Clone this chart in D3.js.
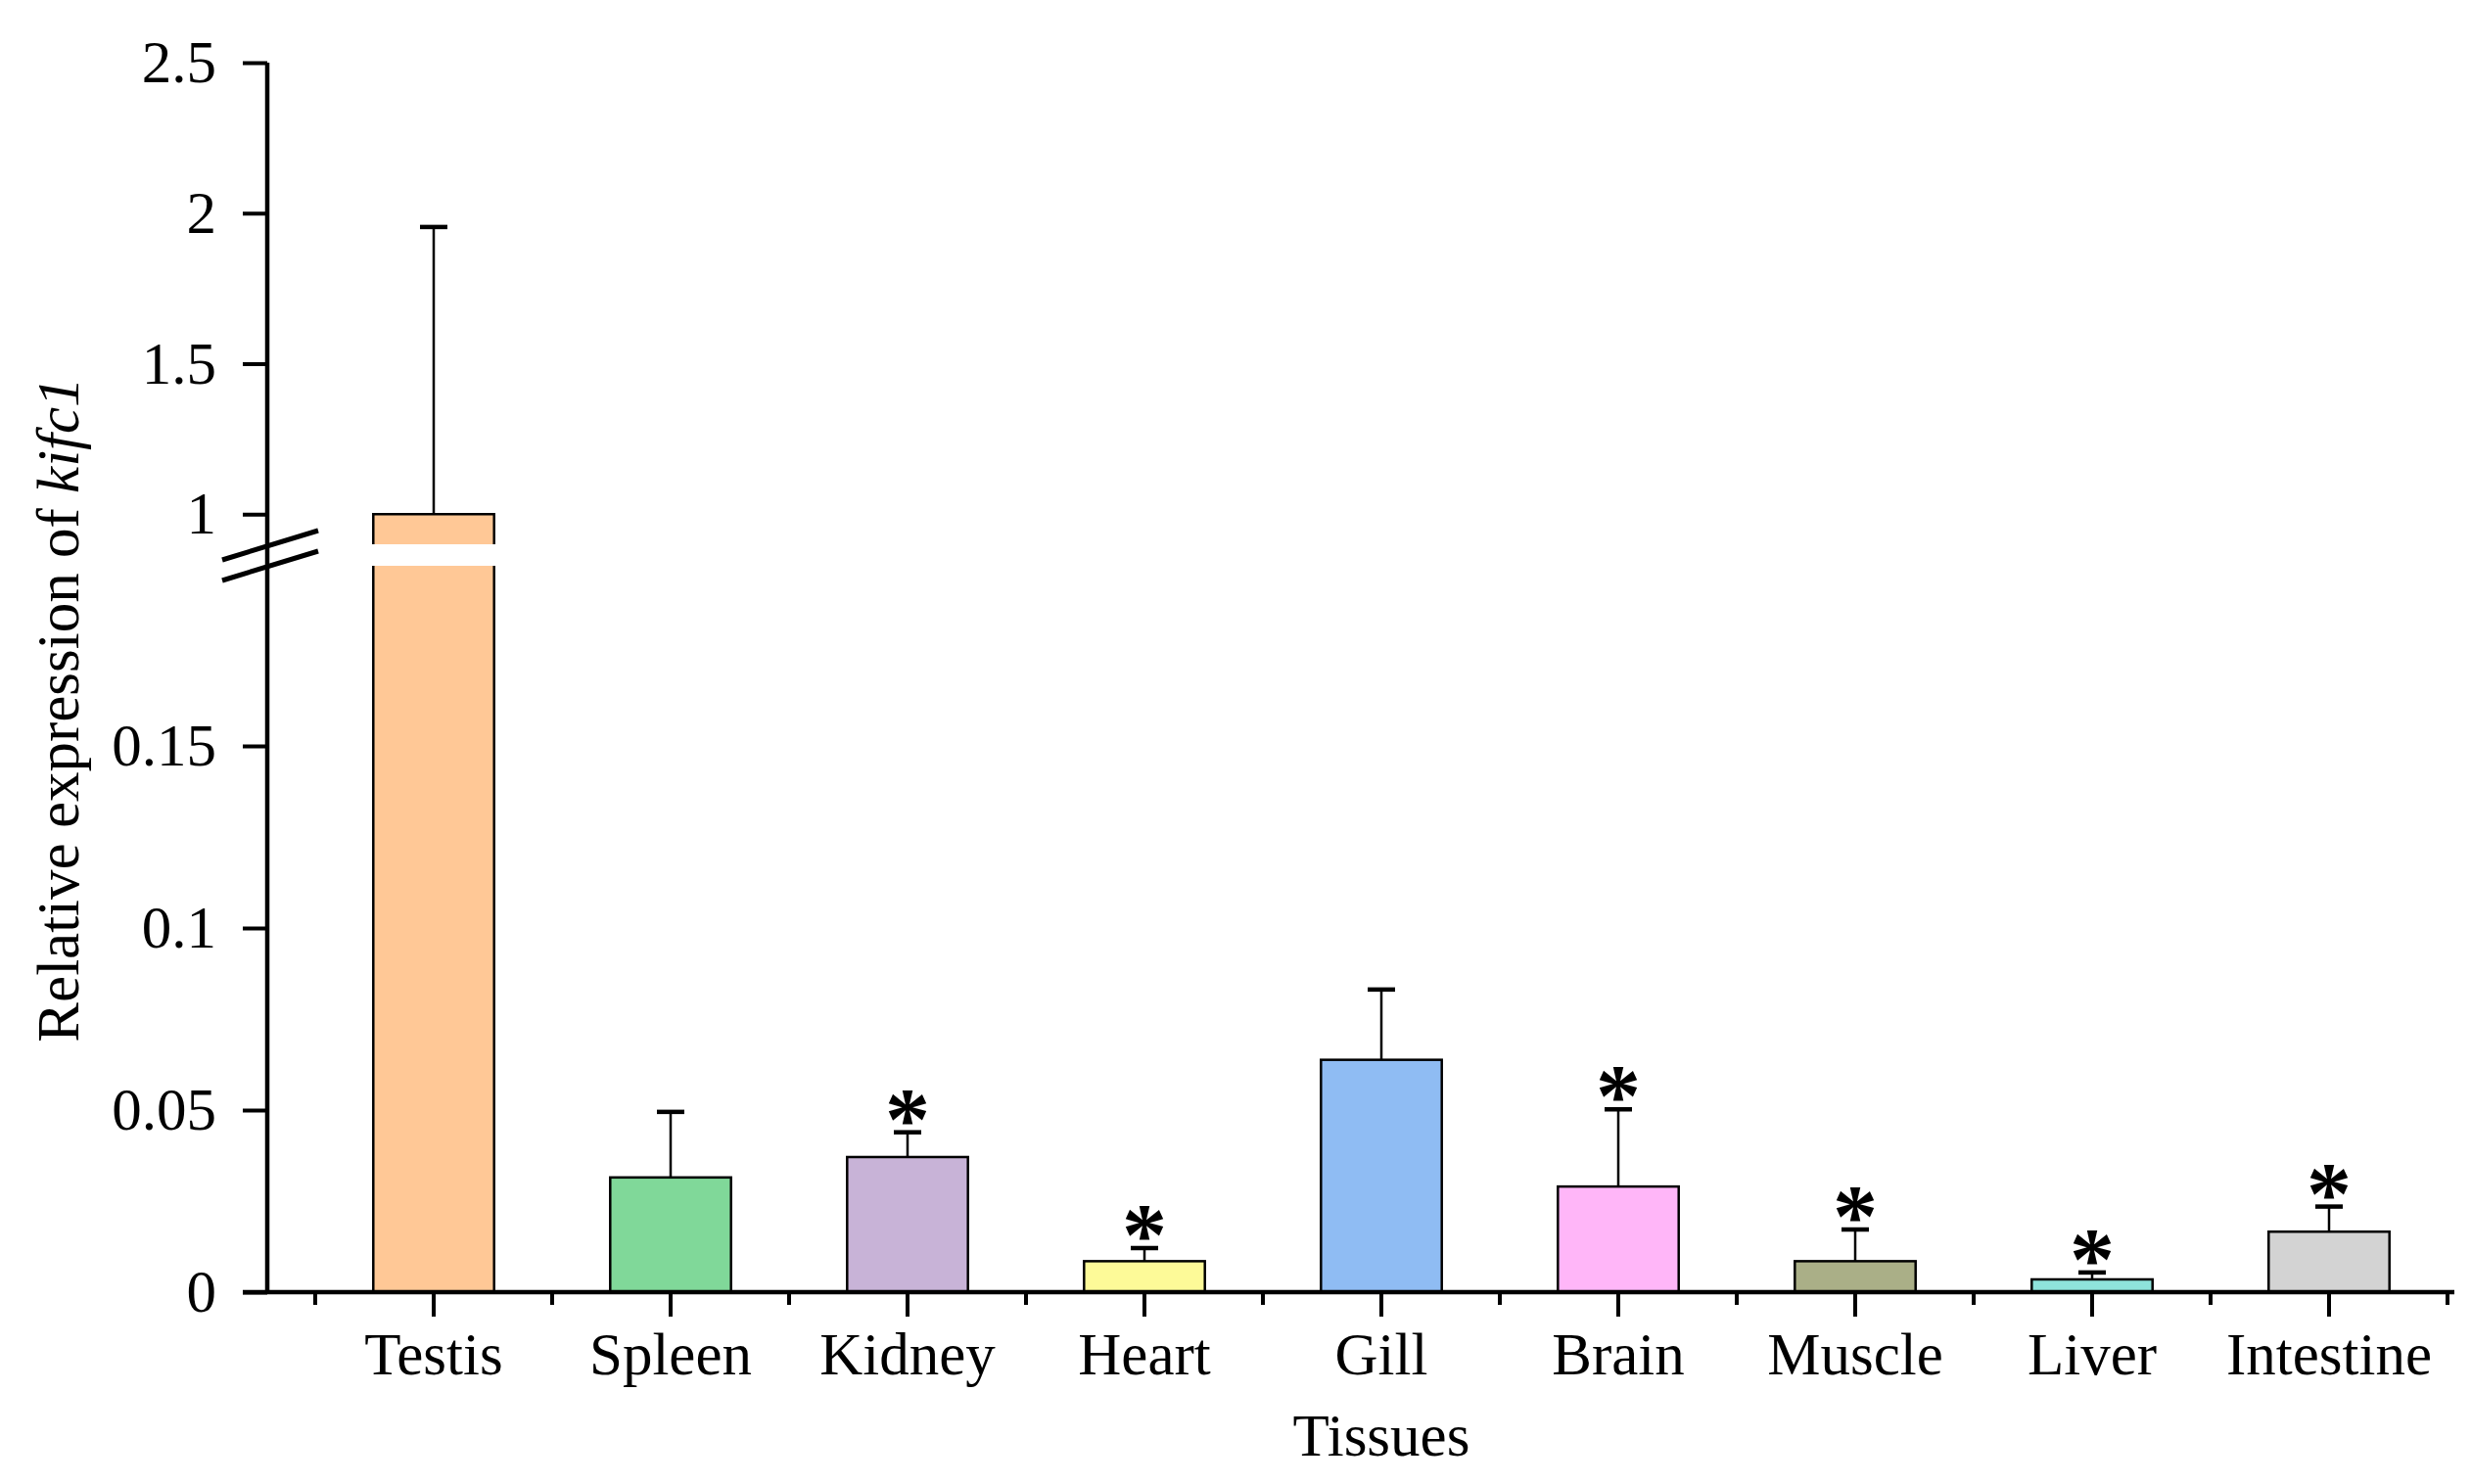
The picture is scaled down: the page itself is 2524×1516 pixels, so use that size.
<!DOCTYPE html>
<html>
<head>
<meta charset="utf-8">
<script src="https://cdn.jsdelivr.net/npm/d3@7"></script>
<style>
  body { margin: 0; background: #fff; }
  text { font-family: "Liberation Serif", "Times New Roman", serif; fill: #000; }
</style>
</head>
<body>
<svg id="chart" width="2524" height="1516"></svg>
<script>
// Relative expression of kifc1 across tissues
const tissues = ["Testis", "Spleen", "Kidney", "Heart", "Gill", "Brain", "Muscle", "Liver", "Intestine"];
const means = [1, 0.0315, 0.0371, 0.0085, 0.0638, 0.029, 0.0085, 0.0035, 0.0166];
const errors = [0.954, 0.018, 0.0068, 0.0036, 0.0193, 0.0212, 0.0087, 0.0019, 0.0069];
const significant = [false, false, true, true, false, true, true, true, true];
const colors = ["#FFC896", "#80D899", "#C8B3D7", "#FDFA98", "#8FBCF3", "#FFB6F8", "#AAAF87", "#8EE3DB", "#D3D3D3"];

const lowTicks = [0, 0.05, 0.1, 0.15];
const highTicks = [1, 1.5, 2, 2.5];
// axis break: lower segment 0-0.2, upper segment 0.9-2.5
const breakLow = 0.2;
const breakHigh = 0.9;

const svg = d3.select("#chart");

const x = d3.scaleBand().domain(tissues).range([322, 2500]);
const yLow = d3.scaleLinear().domain([0, breakLow]).range([1320, 576]);
const yHigh = d3.scaleLinear().domain([breakHigh, 2.5]).range([556, 64]);

// pick the right segment for a value
function yv(v) {
  return v <= breakLow ? yLow(v) : yHigh(v);
}

const barW = x.step() * 0.51;
const cx = (d) => x(d) + x.bandwidth() / 2;

// Bars
const bars = svg.append("g");
tissues.forEach((t, i) => {
  bars.append("rect")
    .attr("x", cx(t) - barW / 2)
    .attr("y", yv(means[i]))
    .attr("width", barW)
    .attr("height", yLow(0) - yv(means[i]))
    .attr("fill", colors[i])
    .attr("stroke", "#000")
    .attr("stroke-width", 2.5);

  // error bar
  const top = yv(means[i] + errors[i]);
  bars.append("line")
    .attr("x1", cx(t)).attr("x2", cx(t))
    .attr("y1", yv(means[i])).attr("y2", top)
    .attr("stroke", "#000").attr("stroke-width", 2.5);
  bars.append("line")
    .attr("x1", cx(t) - 14).attr("x2", cx(t) + 14)
    .attr("y1", top).attr("y2", top)
    .attr("stroke", "#000").attr("stroke-width", 4.5);

  if (significant[i]) {
    bars.append("text")
      .attr("x", cx(t))
      .attr("y", top + 17)
      .attr("text-anchor", "middle")
      .style("font-size", "92px")
      .style("font-weight", "bold")
      .text("*");
  }

  // white gap where the bar crosses the axis break
  if (means[i] > breakLow) {
    bars.append("rect")
      .attr("x", cx(t) - barW / 2 - 5)
      .attr("y", yHigh(breakHigh))
      .attr("width", barW + 10)
      .attr("height", yLow(breakLow) - yHigh(breakHigh) + 2)
      .attr("fill", "#fff");
  }
});

// Y axis line
const axisX = 273;
svg.append("line")
  .attr("x1", axisX).attr("x2", axisX)
  .attr("y1", yHigh(2.5)).attr("y2", yLow(0) + 2)
  .attr("stroke", "#000").attr("stroke-width", 4.5);

function styleAxis(g) {
  g.select(".domain").remove();
  g.selectAll(".tick line").attr("stroke", "#000").attr("stroke-width", 4);
  g.selectAll(".tick text")
    .style("font-size", "61px")
    .style("font-family", '"Liberation Serif", "Times New Roman", serif');
}

svg.append("g")
  .attr("transform", `translate(${axisX},0)`)
  .call(d3.axisLeft(yLow).tickValues(lowTicks).tickSize(25).tickPadding(27).tickFormat((d) => String(d)))
  .call(styleAxis);

svg.append("g")
  .attr("transform", `translate(${axisX},0)`)
  .call(d3.axisLeft(yHigh).tickValues(highTicks).tickSize(25).tickPadding(27).tickFormat((d) => String(d)))
  .call(styleAxis);

// break marks on the y axis
const brk = svg.append("g").attr("stroke", "#000").attr("stroke-width", 5);
[0, 21].forEach((off) => {
  brk.append("line")
    .attr("x1", axisX - 46).attr("y1", yLow(breakLow) - 4 + off)
    .attr("x2", axisX + 52).attr("y2", yHigh(breakHigh) - 14 + off);
});

// X axis
svg.append("line")
  .attr("x1", 248).attr("x2", 2507)
  .attr("y1", yLow(0)).attr("y2", yLow(0))
  .attr("stroke", "#000").attr("stroke-width", 4.5);

svg.append("g")
  .attr("transform", `translate(0,${yLow(0)})`)
  .call(d3.axisBottom(x).tickSize(25).tickPadding(16))
  .call(styleAxis);

// minor ticks at category boundaries
const edges = tissues.map((t) => x(t)).concat([x.range()[1]]);
svg.append("g")
  .selectAll("line")
  .data(edges)
  .join("line")
  .attr("x1", (d) => d).attr("x2", (d) => d)
  .attr("y1", yLow(0)).attr("y2", yLow(0) + 13)
  .attr("stroke", "#000").attr("stroke-width", 4);

// Axis titles
svg.append("text")
  .attr("x", (cx(tissues[0]) + cx(tissues[tissues.length - 1])) / 2)
  .attr("y", 1487)
  .attr("text-anchor", "middle")
  .style("font-size", "61px")
  .text("Tissues");

const yTitle = svg.append("text")
  .attr("transform", "translate(80,725) rotate(-90)")
  .attr("text-anchor", "middle")
  .style("font-size", "61px");
yTitle.append("tspan").text("Relative expression of ");
yTitle.append("tspan").style("font-style", "italic").text("kifc1");
</script>
</body>
</html>
